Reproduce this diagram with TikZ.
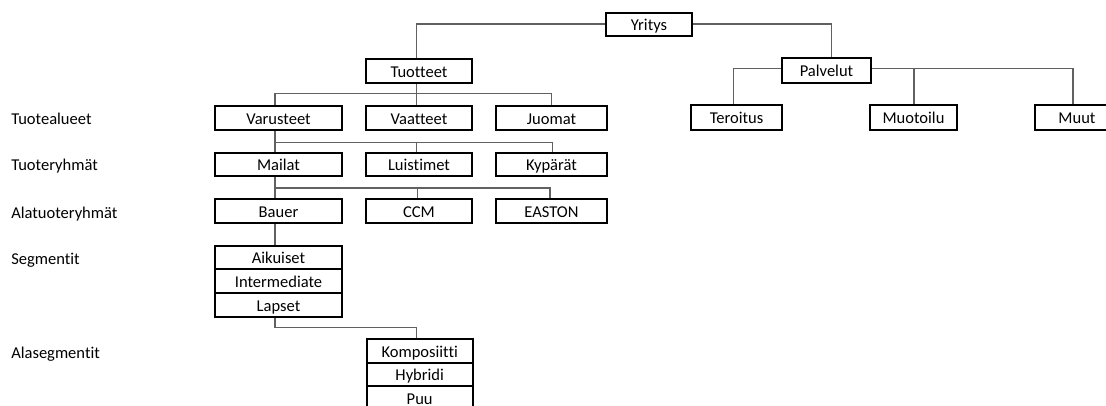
\documentclass[tikz,border=0pt]{standalone}
\usepackage{fontspec}
\setmainfont{Carlito}[Ligatures={NoCommon}]
\begin{document}
\begin{tikzpicture}[x=0.75pt,y=-0.75pt,
  box/.style={draw=black,line width=1.5pt,inner sep=0pt,fill=white,font=\fontsize{12.4}{14}\selectfont,text height=10pt,text depth=0.5pt},
  conn/.style={draw=black!62,line width=0.85pt},
  lbl/.style={anchor=base west,inner sep=0pt,font=\fontsize{12.4}{14}\selectfont}]
\useasboundingbox (0,0) rectangle (1106,405);
\clip (0,0) rectangle (1106,405);
% level labels
\node[lbl] (L1) at (11,124.8) {Tuotealueet};
\node[lbl] (L2) at (11,170.6) {Tuoteryhmät};
\node[lbl] (L3) at (11,218) {Alatuoteryhmät};
\node[lbl] (L4) at (11,264.6) {Segmentit};
\node[lbl] (L5) at (11,358) {Alasegmentit};
% bus coordinates
\coordinate (bus1) at (0,93.5);
\coordinate (bus2) at (0,142.3);
\coordinate (bus3) at (0,188);
\coordinate (bus4) at (0,327.3);
% nodes
\node[box,minimum width=86*0.75pt,minimum height=23*0.75pt] (Yritys) at (649,24.5) {Yritys};
\node[box,minimum width=106*0.75pt,minimum height=24*0.75pt] (Tuotteet) at (419,71) {Tuotteet};
\node[box,minimum width=89*0.75pt,minimum height=25*0.75pt] (Palvelut) at (826.5,70.5) {Palvelut};
\node[box,minimum width=127*0.75pt,minimum height=23.5*0.75pt] (Varusteet) at (278.5,117.75) {Varusteet};
\node[box,minimum width=106*0.75pt,minimum height=23.5*0.75pt] (Vaatteet) at (419,117.75) {Vaatteet};
\node[box,minimum width=111*0.75pt,minimum height=23.5*0.75pt] (Juomat) at (551.5,117.75) {Juomat};
\node[box,minimum width=91*0.75pt,minimum height=25*0.75pt] (Teroitus) at (736.5,117.5) {Teroitus};
\node[box,minimum width=87*0.75pt,minimum height=25*0.75pt] (Muotoilu) at (913.5,117.5) {Muotoilu};
\node[box,minimum width=84*0.75pt,minimum height=25*0.75pt] (Muut) at (1077,117.5) {Muut};
\node[box,minimum width=127*0.75pt,minimum height=23*0.75pt] (Mailat) at (278.5,164.5) {Mailat};
\node[box,minimum width=106*0.75pt,minimum height=23*0.75pt] (Luistimet) at (419,164.5) {Luistimet};
\node[box,minimum width=111*0.75pt,minimum height=23*0.75pt] (Kyparat) at (551.5,164.5) {Kypärät};
\node[box,minimum width=127*0.75pt,minimum height=24*0.75pt] (Bauer) at (278.5,211) {Bauer};
\node[box,minimum width=106*0.75pt,minimum height=24*0.75pt] (CCM) at (419,211) {CCM};
\node[box,minimum width=111*0.75pt,minimum height=24*0.75pt] (EASTON) at (551.5,211) {EASTON};
\node[box,minimum width=127*0.75pt,minimum height=23.6*0.75pt] (Aikuiset) at (278.5,257.5) {Aikuiset};
\node[box,minimum width=127*0.75pt,minimum height=23.6*0.75pt] (Intermediate) at (278.5,281.2) {Intermediate};
\node[box,minimum width=127*0.75pt,minimum height=23.6*0.75pt] (Lapset) at (278.5,304.9) {Lapset};
\node[box,minimum width=106*0.75pt,minimum height=23.6*0.75pt] (Komposiitti) at (419.7,350.8) {Komposiitti};
\node[box,minimum width=106*0.75pt,minimum height=23.6*0.75pt] (Hybridi) at (419.7,374.4) {Hybridi};
\node[box,minimum width=106*0.75pt,minimum height=23.6*0.75pt] (Puu) at (419.7,398) {Puu};
% connectors
\draw[conn] ([shift={(0,-0.5)}]Yritys.west) -| ([shift={(-2.3,0)}]Tuotteet.north);
\draw[conn] ([shift={(0,-0.5)}]Yritys.east) -| ([shift={(5.2,0)}]Palvelut.north);
\draw[conn] ([shift={(-2.3,0)}]Tuotteet.south) -- ([shift={(-2.3,0)}]Tuotteet.south |- bus1) -| ([shift={(-3.5,0)}]Varusteet.north);
\draw[conn] ([shift={(-2.3,0)}]Tuotteet.south |- bus1) -| ([shift={(-2.3,0)}]Vaatteet.north);
\draw[conn] ([shift={(-2.3,0)}]Tuotteet.south |- bus1) -| (Juomat.north);
\draw[conn] ([shift={(0,-2)}]Palvelut.west) -| ([shift={(-3.2,0)}]Teroitus.north);
\draw[conn] ([shift={(0,-2)}]Palvelut.east) -| ([shift={(0.5,0)}]Muotoilu.north);
\draw[conn] ([shift={(0,-2)}]Palvelut.east) -| ([shift={(-4,0)}]Muut.north);
\draw[conn] ([shift={(-3.5,0)}]Varusteet.south) -- ([shift={(-3.5,0)}]Varusteet.south |- bus2) -| ([shift={(-3.5,0)}]Mailat.north);
\draw[conn] ([shift={(-3.5,0)}]Varusteet.south |- bus2) -| ([shift={(-2.3,0)}]Luistimet.north);
\draw[conn] ([shift={(-3.5,0)}]Varusteet.south |- bus2) -| ([shift={(1,0)}]Kyparat.north);
\draw[conn] ([shift={(-3.5,0)}]Mailat.south) -- ([shift={(-3.5,0)}]Mailat.south |- bus3) -| ([shift={(-3.5,0)}]Bauer.north);
\draw[conn] ([shift={(-3.5,0)}]Mailat.south |- bus3) -| ([shift={(-1.7,0)}]CCM.north);
\draw[conn] ([shift={(-3.5,0)}]Mailat.south |- bus3) -| ([shift={(-1.5,0)}]EASTON.north);
\draw[conn] ([shift={(-3.5,0)}]Bauer.south) -- ([shift={(-3.5,0)}]Aikuiset.north);
\draw[conn] ([shift={(-3.5,0)}]Lapset.south) -- ([shift={(-3.5,0)}]Lapset.south |- bus4) -| ([shift={(-3,0)}]Komposiitti.north);
\end{tikzpicture}
\end{document}
